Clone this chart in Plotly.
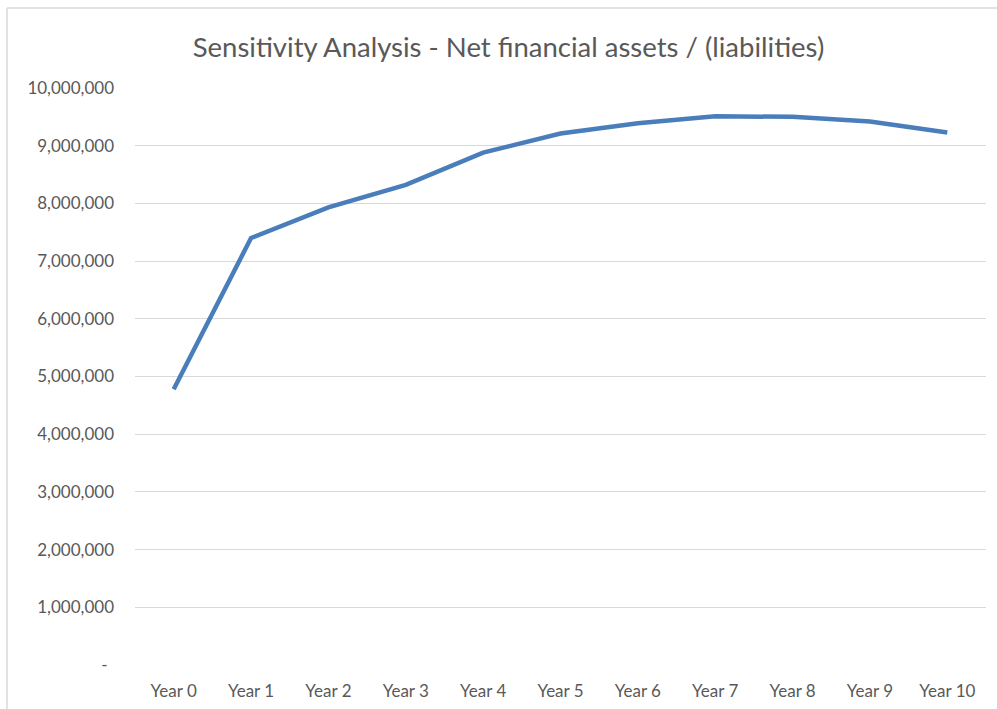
import plotly.graph_objects as go

categories = ["Year 0", "Year 1", "Year 2", "Year 3", "Year 4", "Year 5",
              "Year 6", "Year 7", "Year 8", "Year 9", "Year 10"]
net_assets = [4780000, 7400000, 7930000, 8320000, 8880000, 9210000,
              9390000, 9510000, 9500000, 9420000, 9230000]
y_tickvals = [0, 1000000, 2000000, 3000000, 4000000, 5000000,
              6000000, 7000000, 8000000, 9000000, 10000000]
y_ticktext = ["-\u00a0\u2009", "1,000,000", "2,000,000", "3,000,000", "4,000,000",
              "5,000,000", "6,000,000", "7,000,000", "8,000,000", "9,000,000",
              "10,000,000"]

W, H = 997, 709
ml, mr, mt, mb = 135, 11, 88, 44
pw, ph = W - ml - mr, H - mt - mb

fig = go.Figure()
fig.add_trace(go.Scatter(
    x=categories, y=net_assets, mode="lines",
    line=dict(color="#4A7EBB", width=4.5),
    hoverinfo="x+y",
))

def px_x(p):
    return (p - ml) / pw

def px_y(p):
    return (H - mb - p) / ph

fig.update_layout(
    width=W, height=H,
    margin=dict(l=ml, r=mr, t=mt, b=mb),
    paper_bgcolor="white", plot_bgcolor="white",
    showlegend=False,
    font=dict(family="Lato, 'Open Sans', sans-serif", color="#595959", size=17),
    title=dict(text="Sensitivity Analysis - Net financial assets / (liabilities)",
               x=0.51, xanchor="center", y=1 - 47 / H, yanchor="middle",
               font=dict(size=27.5, color="#595959")),
    xaxis=dict(range=[-0.5, len(categories) - 0.5], automargin=False,
               showgrid=False, showline=False, zeroline=False, ticks="",
               ticklabelstandoff=14, tickfont=dict(size=17, color="#595959")),
    yaxis=dict(range=[0, 10000000], tickvals=y_tickvals, ticktext=y_ticktext,
               automargin=False,
               showgrid=True, gridcolor="#D9D9D9", gridwidth=1.3,
               zeroline=False, showline=False, ticks="",
               ticklabelstandoff=20, tickfont=dict(size=17, color="#595959")),
    shapes=[
        dict(type="line", xref="paper", yref="paper",
             x0=px_x(7), x1=px_x(W + 5), y0=px_y(8), y1=px_y(8),
             line=dict(color="#D9D9D9", width=1.5)),
        dict(type="line", xref="paper", yref="paper",
             x0=px_x(7), x1=px_x(7), y0=px_y(8), y1=px_y(H + 5),
             line=dict(color="#D9D9D9", width=1.5)),
    ],
)

fig.write_html(
    "out.html",
    config={"displayModeBar": False},
    post_script="document.body.style.margin='0';document.body.style.overflow='hidden';",
)
